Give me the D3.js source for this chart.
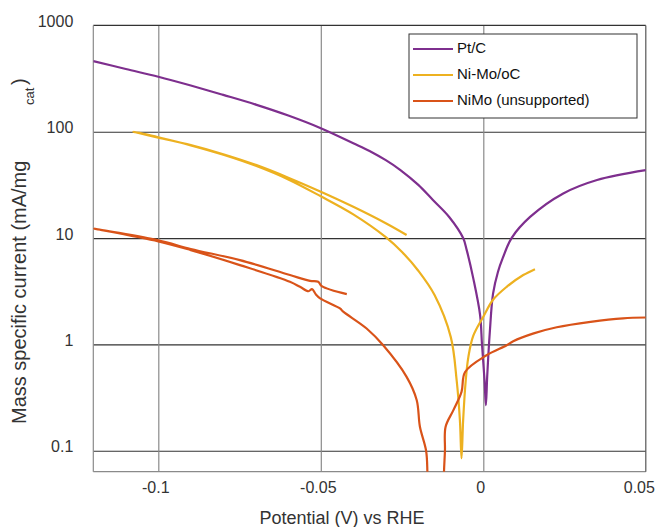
<!DOCTYPE html>
<html>
<head>
<meta charset="utf-8">
<script src="https://cdn.jsdelivr.net/npm/d3@7"></script>
<style>
  body { margin: 0; background: #fff; }
  svg { display: block; font-family: "Liberation Sans", Arial, sans-serif; }
</style>
</head>
<body>
<script>
// potential (V vs RHE) and mass specific current (mA/mg cat)
var ptcV = [-0.12, -0.11, -0.1, -0.09, -0.08, -0.07, -0.06, -0.05, -0.04, -0.035, -0.03, -0.0255, -0.02, -0.0155, -0.0105,
    -0.0062, -0.0051, -0.0031, -0.001, -0.0004, 0.0004, 0.0008, 0.0012, 0.002, 0.003, 0.0045, 0.006, 0.0087, 0.0144, 0.0246, 0.035, 0.05];
var ptcI = [462, 389, 329, 272, 222, 180, 142, 108, 78, 66, 54, 43.6, 31.6, 22.8, 15.8,
    10.0, 7.7, 4.2, 1.9, 1.0, 0.45, 0.268, 0.5, 1.3, 3.0, 4.8, 6.5, 10.0, 15.8, 26.3, 35.2, 43.6];

// Ni-Mo/oC: from the positive end down through the minimum, out to -0.108 V and back
var nimoocV = [0.0159, 0.0123, 0.0072, 0.003, 0.0, -0.0031, -0.0046, -0.0054, -0.0062, -0.0067,
    -0.0072, -0.0082, -0.01, -0.015, -0.02, -0.025, -0.03, -0.04, -0.05, -0.06, -0.07, -0.08, -0.09, -0.1, -0.1077,
    -0.1, -0.09, -0.08, -0.07, -0.06, -0.05, -0.04, -0.03, -0.0236];
var nimoocI = [5.1, 4.49, 3.48, 2.63, 1.82, 1.2, 0.76, 0.46, 0.194, 0.085,
    0.194, 0.46, 1.17, 2.91, 4.93, 7.4, 10.2, 16.7, 24.7, 35.6, 47.8, 60.8, 74.5, 88.7, 100,
    88, 75, 61.5, 48.8, 37.0, 27.3, 19.7, 13.8, 10.7];

// NiMo (unsupported): the branch above the zero crossing
var nimoV1 = [0.05, 0.043, 0.033, 0.0226, 0.0155, 0.0092, 0.0072, 0.001, -0.0056, -0.0067, -0.0092, -0.0116, -0.0118, -0.0121, -0.0122];
var nimoI1 = [1.79, 1.76, 1.63, 1.45, 1.27, 1.07, 0.98, 0.79, 0.55, 0.358, 0.241, 0.168, 0.1, 0.062, 0.03];
// the cathodic branch, out to the left edge and back
var nimoV2 = [-0.0171, -0.0172, -0.0176, -0.0195, -0.0205, -0.0236, -0.0308, -0.0359, -0.0431, -0.0441, -0.0502, -0.0515, -0.0527, -0.0538, -0.0564, -0.0595, -0.0749, -0.09, -0.1, -0.12,
    -0.1, -0.09, -0.0749, -0.0595, -0.0533, -0.0508, -0.0497, -0.042];
var nimoI2 = [0.03, 0.063, 0.1, 0.168, 0.3, 0.495, 0.98, 1.41, 2.03, 2.18, 2.71, 2.95, 3.31, 3.16, 3.48, 3.88, 5.57, 7.7, 9.3, 12.3,
    9.5, 7.9, 6.2, 4.49, 3.96, 3.88, 3.53, 2.97];

var xTicks = [-0.1, -0.05, 0, 0.05];
var yTicks = [0.1, 1, 10, 100, 1000];
var legendNames = ["Pt/C", "Ni-Mo/oC", "NiMo (unsupported)"];
var colors = ["#7E2F8E", "#EDB120", "#D95319"];

function draw() {
    var w = 656, h = 527;
    var pL = 93.3, pR = 645.8, pT = 25.4, pB = 471.7;

    var svg = d3.select("body").append("svg")
        .attr("width", w)
        .attr("height", h);

    var xScale = d3.scaleLinear().domain([-0.12, 0.05]).range([pL, pR]);
    var yScale = d3.scaleLog().domain([0.0635, 1000]).range([pB, pT]);

    svg.append("clipPath").attr("id", "plot")
        .append("rect")
        .attr("x", pL).attr("y", pT)
        .attr("width", pR - pL).attr("height", pB - pT);

    // grid lines
    svg.append("g")
        .attr("transform", "translate(" + pL + ",0)")
        .call(d3.axisLeft(yScale).tickValues(yTicks.slice(0, 4)).tickSize(-(pR - pL)).tickFormat(""))
        .call(function (g) { g.select(".domain").remove(); })
        .selectAll("line").attr("stroke", "#333").attr("stroke-width", 1.2);

    svg.append("g")
        .attr("transform", "translate(0," + pB + ")")
        .call(d3.axisBottom(xScale).tickValues(xTicks.slice(0, 3)).tickSize(-(pB - pT)).tickFormat(""))
        .call(function (g) { g.select(".domain").remove(); })
        .selectAll("line").attr("stroke", "#8a8a8a").attr("stroke-width", 1.2);

    // frame
    svg.append("line").attr("x1", pL).attr("x2", pR).attr("y1", pT).attr("y2", pT).attr("stroke", "#333").attr("stroke-width", 1.2);
    svg.append("line").attr("x1", pL).attr("x2", pR).attr("y1", pB).attr("y2", pB).attr("stroke", "#8a8a8a").attr("stroke-width", 1.2);
    svg.append("line").attr("x1", pL).attr("x2", pL).attr("y1", pT).attr("y2", pB).attr("stroke", "#8a8a8a").attr("stroke-width", 1.2);
    svg.append("line").attr("x1", pR).attr("x2", pR).attr("y1", pT).attr("y2", pB).attr("stroke", "#555").attr("stroke-width", 1.2);

    // tick labels
    var yAxis = svg.append("g")
        .attr("transform", "translate(" + pL + ",0)")
        .call(d3.axisLeft(yScale).tickValues(yTicks).tickSize(0).tickPadding(20).tickFormat(function (d) { return String(d); }));
    yAxis.select(".domain").remove();
    yAxis.selectAll("text").attr("font-size", 16).attr("fill", "#333")
        .attr("font-family", "'Liberation Sans', Arial, sans-serif").attr("y", -4);

    var xAxis = svg.append("g")
        .attr("transform", "translate(0," + pB + ")")
        .call(d3.axisBottom(xScale).tickValues(xTicks).tickSize(0).tickPadding(10).tickFormat(function (d) { return String(d); }));
    xAxis.select(".domain").remove();
    xAxis.selectAll("text").attr("font-size", 16).attr("fill", "#333")
        .attr("font-family", "'Liberation Sans', Arial, sans-serif")
        .attr("x", function (d) { return d === 0.05 ? -7 : -3; });

    // curves
    var line = d3.line()
        .curve(d3.curveCatmullRom.alpha(0.5))
        .x(function (d) { return xScale(d[0]); })
        .y(function (d) { return yScale(d[1]); });

    var series = [
        { V: ptcV, I: ptcI, c: colors[0] },
        { V: nimoocV, I: nimoocI, c: colors[1] },
        { V: nimoV1, I: nimoI1, c: colors[2] },
        { V: nimoV2, I: nimoI2, c: colors[2] }
    ];

    svg.append("g").attr("clip-path", "url(#plot)")
        .selectAll("path")
        .data(series)
        .enter()
        .append("path")
        .attr("fill", "none")
        .attr("stroke", function (d) { return d.c; })
        .attr("stroke-width", 2.2)
        .attr("stroke-linejoin", "round")
        .attr("d", function (d) { return line(d3.zip(d.V, d.I)); });

    // legend
    var lg = svg.append("g");
    lg.append("rect")
        .attr("x", 409).attr("y", 34).attr("width", 228).attr("height", 84)
        .attr("fill", "#fff").attr("stroke", "#333").attr("stroke-width", 1);
    legendNames.forEach(function (name, i) {
        var yy = 49 + i * 26;
        lg.append("line")
            .attr("x1", 413).attr("x2", 453).attr("y1", yy).attr("y2", yy)
            .attr("stroke", colors[i]).attr("stroke-width", 2.2);
        lg.append("text")
            .attr("x", 457).attr("y", yy + 4)
            .attr("font-size", 15).attr("fill", "#111")
            .text(name);
    });

    // axis titles
    svg.append("text")
        .attr("x", 342).attr("y", 524)
        .attr("text-anchor", "middle")
        .attr("font-size", 18).attr("fill", "#333")
        .text("Potential (V) vs RHE");

    var yl = svg.append("text")
        .attr("transform", "translate(26,424) rotate(-90)")
        .attr("font-size", 20).attr("fill", "#333");
    yl.append("tspan").attr("x", 0).attr("y", 0).text("Mass specific current (mA/mg");
    yl.append("tspan").attr("x", 319).attr("y", 7.5).attr("font-size", 13).text("cat");
    yl.append("tspan").attr("x", 339).attr("y", 0).text(")");
}

draw();
</script>
</body>
</html>
